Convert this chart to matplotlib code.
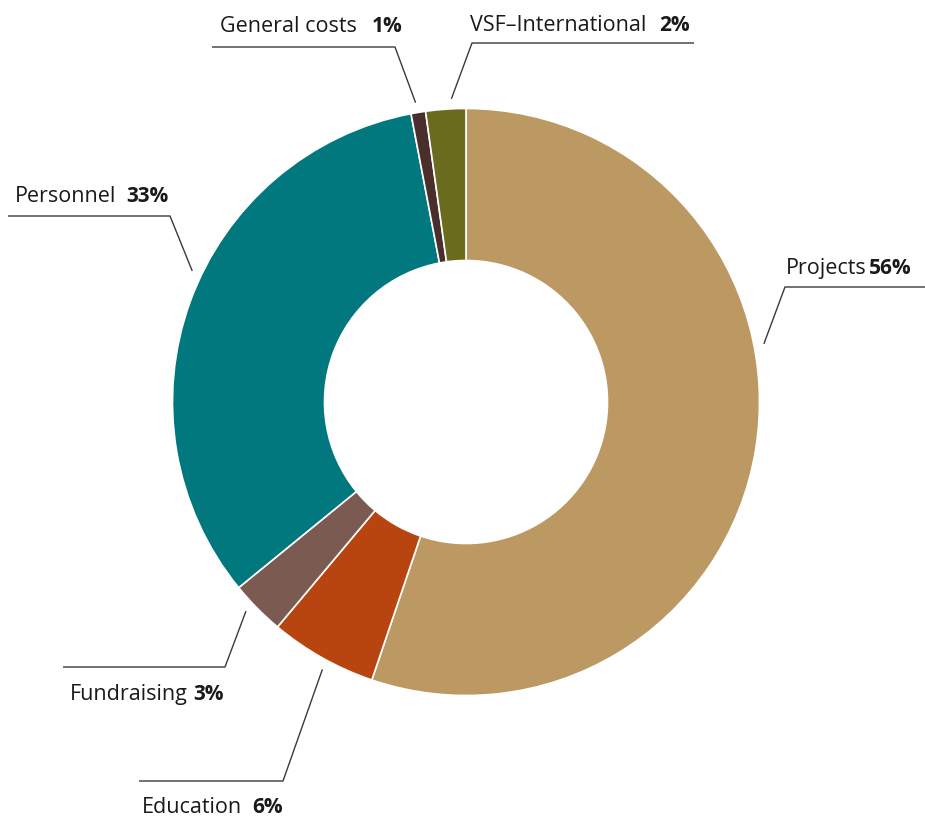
import numpy as np
import matplotlib
matplotlib.use("Agg")
import matplotlib.pyplot as plt

# ---- data ----
categories = ["Projects", "Education", "Fundraising", "Personnel", "General costs", "VSF\u2013International"]
values = [55.2, 5.9, 3.0, 32.9, 0.8, 2.2]
pct_labels = ["56%", "6%", "3%", "33%", "1%", "2%"]
colors = ["#BC9862", "#B84510", "#7B5A52", "#00787E", "#4A2E2B", "#6B6B1E"]

# ---- layout (pixel space, y measured from top) ----
W, H = 925, 820
cx, cy = 466, 403
R_out, R_in = 293.5, 141.5
anchor_angle_shift = [-20.4, -1.1, 1.1, 5.6, -0.2, 1.2]   # deg, clockwise
elbows = [(785, 288), (283, 782), (225, 668), (170, 217), (395, 48), (472, 44)]
line_ends = [925, 139, 63, 8, 212, 694]
text_left = [786, 142, 70, 15, 220, 470]
pct_left = [869, 252, 193, 126, 372, 659]
text_base = [274, 813, 700, 202, 32, 31]

plt.rcParams['font.family'] = ['Open Sans', 'DejaVu Sans']

fig = plt.figure(figsize=(W / 100, H / 100), dpi=100)
ax = fig.add_axes([0, 0, 1, 1])

def Y(y):
    return H - y

wedges, _ = ax.pie(values, colors=colors, startangle=90, counterclock=False,
                   radius=R_out, center=(cx, Y(cy)),
                   wedgeprops=dict(width=R_out - R_in, edgecolor='white', linewidth=1.2))

ax.set_xlim(0, W)
ax.set_ylim(0, H)
ax.set_aspect('equal')
ax.axis('off')

total = sum(values)
cum = 0.0
line_col = "#3a3a3a"
for i, v in enumerate(values):
    mid = (cum + v / 2) / total * 360 + anchor_angle_shift[i]
    cum += v
    th = np.deg2rad(mid)
    ra = R_out + 10
    ax_x = cx + ra * np.sin(th)
    ax_y = cy - ra * np.cos(th)
    ex, ey = elbows[i]
    ax.plot([ax_x, ex, line_ends[i]], [Y(ax_y), Y(ey), Y(ey)], color=line_col, lw=1.0,
            solid_capstyle='butt')
    ax.text(text_left[i], Y(text_base[i]), categories[i], ha='left', va='baseline',
            fontsize=15.5, color='#1a1a1a')
    ax.text(pct_left[i], Y(text_base[i]), pct_labels[i], ha='left', va='baseline',
            fontsize=15, fontweight='bold', color='#1a1a1a')

fig.savefig("out.png", dpi=100)
